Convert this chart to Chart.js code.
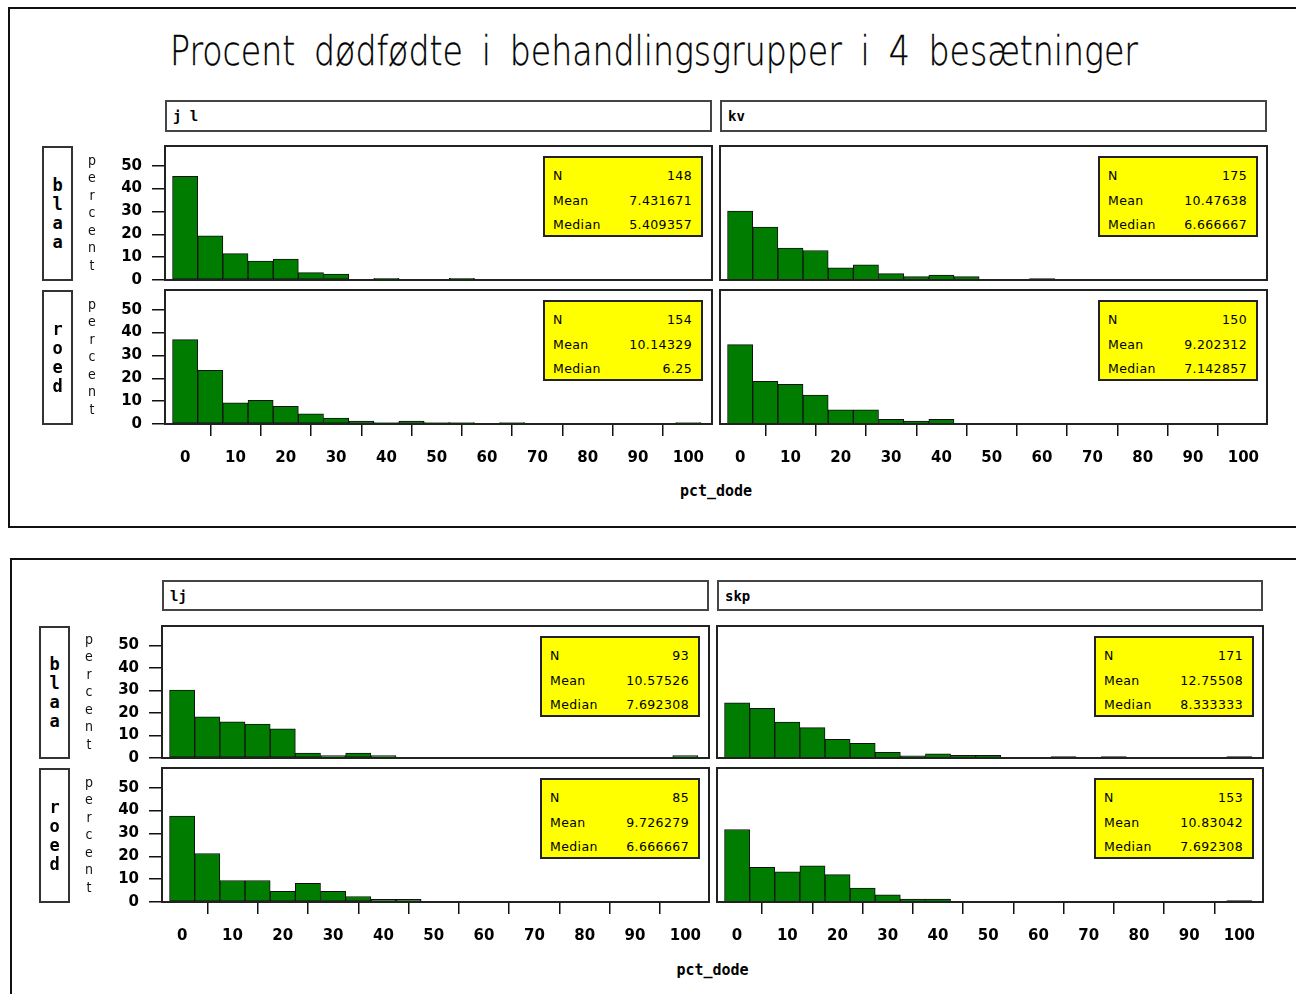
<!DOCTYPE html>
<html>
<head>
<meta charset="utf-8">
<script src="https://cdn.jsdelivr.net/npm/chart.js@4.4.1/dist/chart.umd.min.js"></script>
<style>
body { margin: 0; background: #fff; }
#page { position: relative; width: 1296px; height: 994px; overflow: hidden; background: #fff; }
.block { position: absolute; border: 2px solid #111; box-sizing: border-box; }
.title { position: absolute; font: 200 40px "DejaVu Sans", sans-serif; word-spacing: 10px; white-space: pre; line-height: 1; transform-origin: 0 0; color: #000; -webkit-text-stroke: 0.3px #000; }
.strip { position: absolute; border: 2px solid #444; box-sizing: border-box; font: bold 14px "DejaVu Sans Mono", monospace; padding-left: 6px; line-height: 28px; }
.rowlab { position: absolute; border: 2px solid #333; box-sizing: border-box; display: flex; flex-direction: column; justify-content: center; align-items: center; font: bold 17px "DejaVu Sans Mono", monospace; line-height: 19px; }
.pct { position: absolute; width: 16px; display: flex; flex-direction: column; justify-content: center; align-items: center; font: 14px "DejaVu Sans Condensed", "DejaVu Sans", sans-serif; line-height: 17.5px; color: #111; }
.xlab { position: absolute; font: bold 15px "DejaVu Sans Mono", monospace; transform: translateX(-50%); }
.stats { position: absolute; background: #ffff00; border: 2px solid #222; box-sizing: border-box; font: 12.5px "DejaVu Sans", sans-serif; letter-spacing: 0.4px; padding: 8px 9px 0 8px; }
.stats div { display: flex; justify-content: space-between; height: 24.5px; line-height: 20px; }
canvas { position: absolute; }
</style>
</head>
<body>
<div id="page"></div>
<script>
// histogram bins (midpoints, width 5) and axis ticks
const bins = [0, 5, 10, 15, 20, 25, 30, 35, 40, 45, 50, 55, 60, 65, 70, 75, 80, 85, 90, 95, 100];
const xTicks = [0, 10, 20, 30, 40, 50, 60, 70, 80, 90, 100];
const yTicks = [0, 10, 20, 30, 40, 50];

// percent of litters per bin
const jlBlaa  = [45.3, 19.3, 11.5, 8.3, 9.1, 3.2, 2.6, 0, 0.7, 0, 0, 0.7, 0, 0, 0, 0, 0, 0, 0, 0, 0];
const jlRoed  = [36.9, 23.5, 9.3, 10.3, 7.7, 4.5, 2.6, 1.3, 0.65, 1.3, 0.65, 0.65, 0, 0.65, 0, 0, 0, 0, 0, 0, 0.65];
const kvBlaa  = [30.1, 23.1, 14.0, 12.9, 5.3, 6.6, 2.8, 1.5, 2.2, 1.5, 0, 0, 0.6, 0, 0, 0, 0, 0, 0, 0, 0];
const kvRoed  = [34.7, 18.7, 17.3, 12.7, 6.2, 6.2, 2.0, 1.3, 2.0, 0, 0, 0, 0, 0, 0, 0, 0, 0, 0, 0, 0];
const ljBlaa  = [30.1, 18.3, 16.1, 15.1, 12.9, 2.2, 1.1, 2.2, 1.1, 0, 0, 0, 0, 0, 0, 0, 0, 0, 0, 0, 1.1];
const ljRoed  = [37.6, 21.2, 9.4, 9.4, 4.7, 8.2, 4.7, 2.4, 1.2, 1.2, 0, 0, 0, 0, 0, 0, 0, 0, 0, 0, 0];
const skpBlaa = [24.5, 22.0, 16.0, 13.5, 8.3, 6.5, 2.5, 1.0, 1.9, 1.2, 1.2, 0, 0, 0.6, 0, 0.6, 0, 0, 0, 0, 0.6];
const skpRoed = [31.7, 15.2, 13.2, 15.8, 12.0, 6.1, 3.1, 1.3, 1.3, 0, 0, 0, 0, 0, 0, 0, 0, 0, 0, 0, 0.65];

// inset summaries
const statLabels = ['N', 'Mean', 'Median'];
const jlStats  = [['148', '7.431671', '5.409357'], ['154', '10.14329', '6.25']];
const kvStats  = [['175', '10.47638', '6.666667'], ['150', '9.202312', '7.142857']];
const ljStats  = [['93', '10.57526', '7.692308'], ['85', '9.726279', '6.666667']];
const skpStats = [['171', '12.75508', '8.333333'], ['153', '10.83042', '7.692308']];

const groups = ['blaa', 'roed'];
const title = 'Procent dødfødte i behandlingsgrupper i 4 besætninger';
const xTitle = 'pct_dode';

const herds = [
  { name: 'jl',  data: [jlBlaa, jlRoed],   stats: jlStats },
  { name: 'kv',  data: [kvBlaa, kvRoed],   stats: kvStats },
  { name: 'lj',  data: [ljBlaa, ljRoed],   stats: ljStats },
  { name: 'skp', data: [skpBlaa, skpRoed], stats: skpStats }
];

// page geometry of the two plot blocks
const blocks = [
  { box: [8, 7, 1290, 521], cols: [[165, 712], [720, 1267]], rows: [[146, 280], [290, 424]],
    strip: [100, 132], rowX: 42, pctX: 84, xlabY: 482, herds: [0, 1] },
  { box: [10, 558, 1290, 460], cols: [[162, 709], [717, 1263]], rows: [[626, 758], [768, 902]],
    strip: [580, 611], rowX: 39, pctX: 81, xlabY: 961, herds: [2, 3] }
];

const page = document.getElementById('page');
function el(cls, css, html) {
  const d = document.createElement('div');
  d.className = cls;
  Object.assign(d.style, css);
  if (html !== undefined) d.innerHTML = html;
  page.appendChild(d);
  return d;
}

const framePlugin = {
  id: 'frame',
  afterDraw(chart) {
    const a = chart.chartArea, c = chart.ctx;
    c.save();
    c.strokeStyle = '#222';
    c.lineWidth = 2;
    c.strokeRect(a.left, a.top, a.right - a.left, a.bottom - a.top);
    c.restore();
  }
};

function drawPanel(L, R, T, B, values, showY, showX) {
  const axisW = showY ? 70 : 0, axisH = showX ? 55 : 0;
  const padL = showY ? 70 : 2, padB = showX ? 55 : 11;
  const cv = document.createElement('canvas');
  cv.width = (R - L) + padL + 2;
  cv.height = (B - T) + 2 + padB;
  cv.style.left = (L - padL) + 'px';
  cv.style.top = (T - 2) + 'px';
  page.appendChild(cv);
  new Chart(cv, {
    type: 'bar',
    data: {
      datasets: [{
        data: bins.map((b, i) => ({ x: b, y: values[i] })),
        backgroundColor: '#007d00',
        borderColor: '#111',
        borderWidth: 1,
        borderSkipped: false,
        barPercentage: 1,
        categoryPercentage: 1
      }]
    },
    options: {
      responsive: false,
      animation: false,
      devicePixelRatio: 1,
      layout: { padding: { top: 2, right: 2, left: showY ? 0 : 2, bottom: showX ? 0 : 11 } },
      plugins: { legend: { display: false }, tooltip: { enabled: false } },
      scales: {
        x: {
          type: 'linear', min: -4, max: 104.7, offset: false, display: showX,
          afterBuildTicks: s => { s.ticks = xTicks.map(v => ({ value: v })); },
          afterFit: s => { s.height = axisH; s.paddingLeft = 0; s.paddingRight = 0; },
          grid: { drawOnChartArea: false, drawTicks: true, tickLength: 12, color: '#111', lineWidth: 1.5 },
          border: { display: false },
          ticks: { color: '#000', padding: 13, maxRotation: 0, font: { family: 'DejaVu Sans', weight: 'bold', size: 15 } }
        },
        y: {
          min: 0, max: 58.6, display: showY,
          afterBuildTicks: s => { s.ticks = yTicks.map(v => ({ value: v })); },
          afterFit: s => { s.width = axisW; s.paddingTop = 0; s.paddingBottom = 0; },
          grid: { drawOnChartArea: false, drawTicks: true, tickLength: 13, color: '#111', lineWidth: 1.5 },
          border: { display: false },
          ticks: { color: '#000', padding: 10, font: { family: 'DejaVu Sans', weight: 'bold', size: 15 } }
        }
      }
    },
    plugins: [framePlugin]
  });
}

// title, scaled to span its line
const t = el('title', { left: '0px', top: '31px' }, title);
const tw = t.getBoundingClientRect().width;
const target = 968;
t.style.transform = 'scaleX(' + (target / tw) + ')';
t.style.left = (654 - target / 2) + 'px';

blocks.forEach(bk => {
  el('block', { left: bk.box[0] + 'px', top: bk.box[1] + 'px', width: bk.box[2] + 'px', height: bk.box[3] + 'px' });
  bk.herds.forEach((hi, ci) => {
    const h = herds[hi];
    const [L, R] = bk.cols[ci];
    el('strip', { left: L + 'px', top: bk.strip[0] + 'px', width: (R - L) + 'px', height: (bk.strip[1] - bk.strip[0]) + 'px' },
       h.name.split('').join(h.name === 'jl' ? ' ' : ''));
    bk.rows.forEach((rw, ri) => {
      const [T, B] = rw;
      drawPanel(L, R, T, B, h.data[ri], ci === 0, ri === 1);
      const s = h.stats[ri];
      el('stats', { left: (R - 169) + 'px', top: (T + 10) + 'px', width: '160px', height: '81px' },
         statLabels.map((lab, k) => '<div><span>' + lab + '</span><span>' + s[k] + '</span></div>').join(''));
    });
  });
  bk.rows.forEach((rw, ri) => {
    const [T, B] = rw;
    el('rowlab', { left: bk.rowX + 'px', top: T + 'px', width: '31px', height: (B - T + 1) + 'px' },
       groups[ri].split('').map(c => '<span>' + c + '</span>').join(''));
    el('pct', { left: bk.pctX + 'px', top: T + 'px', height: (B - T) + 'px' },
       'percent'.split('').map(c => '<span>' + c + '</span>').join(''));
  });
  const mid = (bk.cols[0][0] + bk.cols[1][1]) / 2;
  el('xlab', { left: mid + 'px', top: bk.xlabY + 'px' }, xTitle);
});
</script>
</body>
</html>
